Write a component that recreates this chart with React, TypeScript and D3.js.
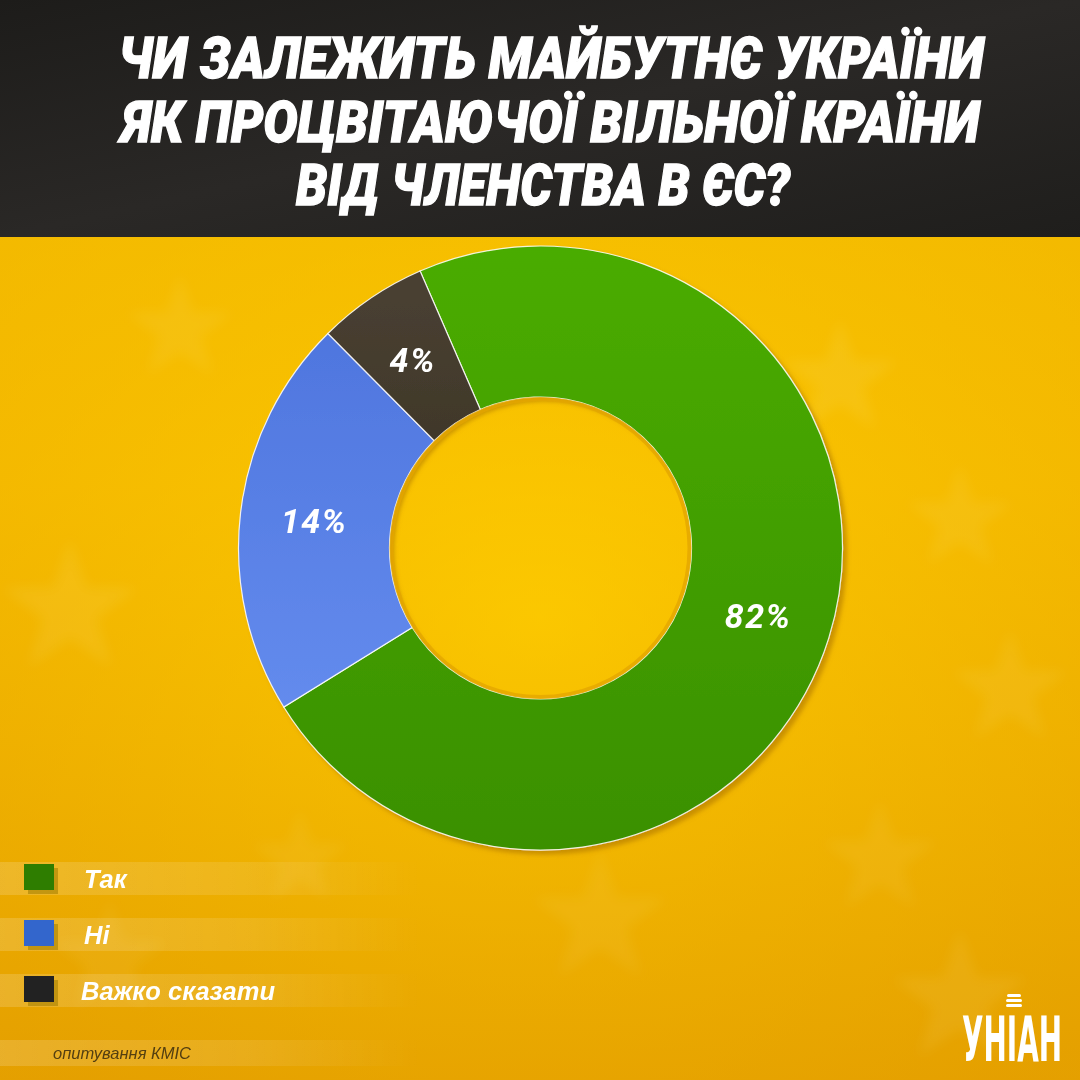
import React from "react";
import * as d3 from "d3";

// ---- data ----
const titleLines = [
  "ЧИ ЗАЛЕЖИТЬ МАЙБУТНЄ УКРАЇНИ",
  "ЯК ПРОЦВІТАЮЧОЇ ВІЛЬНОЇ КРАЇНИ",
  "ВІД ЧЛЕНСТВА В ЄС?",
];
const categories = ["Так", "Ні", "Важко сказати"];
// printed percentages
const labelValues = [82, 14, 4];
// angular shares of the slices as drawn in the picture
const sliceShares = [72.7, 21.4, 5.9];
const sourceText = "опитування КМІС";
const logoText = "УНІАН";

const sliceColors = [
  ["#4aac00", "#3a9000"],
  ["#4a71db", "#6b93f3"],
  ["#4b4234", "#2a2314"],
];
const legendColors = ["#2e7d00", "#3366cc", "#222222"];

const W = 1080;
const H = 1080;
const cx = 540.5;
const cy = 548;
const rOuter = 302;
const rInner = 151;
const startDeg = -23.5;

const stars: [number, number, number, number][] = [
  [70, 610, 70, 0.07],
  [840, 380, 60, 0.07],
  [960, 520, 55, 0.06],
  [1010, 690, 60, 0.06],
  [960, 1000, 70, 0.06],
  [110, 960, 60, 0.05],
  [600, 920, 70, 0.05],
  [180, 330, 55, 0.06],
  [300, 860, 50, 0.05],
  [880, 860, 60, 0.05],
];

function starPath(x: number, y: number, r: number) {
  const pts: string[] = [];
  for (let i = 0; i < 10; i++) {
    const a = (Math.PI / 5) * i - Math.PI / 2;
    const rr = i % 2 === 0 ? r : r * 0.4;
    pts.push(`${x + rr * Math.cos(a)},${y + rr * Math.sin(a)}`);
  }
  return "M" + pts.join("L") + "Z";
}

export default function App() {
  const pie = d3
    .pie<number>()
    .sort(null)
    .value((d) => d)
    .startAngle((startDeg * Math.PI) / 180)
    .endAngle((startDeg * Math.PI) / 180 + 2 * Math.PI);
  const arcs = pie(sliceShares);
  const arc = d3.arc<d3.PieArcDatum<number>>().innerRadius(rInner).outerRadius(rOuter);
  const labelArc = d3
    .arc<d3.PieArcDatum<number>>()
    .innerRadius(rInner + 77)
    .outerRadius(rInner + 77);

  const legendY = d3.scalePoint<string>().domain(categories).range([877, 989]);
  const titleX = [551, 551, 543];
  const titleW = [866, 857, 494];

  return (
    <svg width={W} height={H} style={{ display: "block", position: "absolute", left: 0, top: 0 }}>
      <defs>
        <linearGradient id="bg" x1="0" y1="0" x2="0" y2="1">
          <stop offset="0%" stopColor="#ffd000" />
          <stop offset="45%" stopColor="#fcc400" />
          <stop offset="100%" stopColor="#e7a300" />
        </linearGradient>
        <radialGradient id="bgr" cx="0.5" cy="0.45" r="0.7">
          <stop offset="0%" stopColor="#ffd200" stopOpacity="0.5" />
          <stop offset="100%" stopColor="#e09a00" stopOpacity="0.35" />
        </radialGradient>
        <linearGradient id="top" x1="0" y1="0" x2="1" y2="1">
          <stop offset="0%" stopColor="#1d1c1a" />
          <stop offset="50%" stopColor="#2a2826" />
          <stop offset="100%" stopColor="#1f1e1c" />
        </linearGradient>
        {sliceColors.map((c, i) => (
          <linearGradient
            key={i}
            id={`sl${i}`}
            gradientUnits="userSpaceOnUse"
            x1={0}
            y1={-rOuter}
            x2={0}
            y2={rOuter}
          >
            <stop offset="0%" stopColor={c[0]} />
            <stop offset="100%" stopColor={c[1]} />
          </linearGradient>
        ))}
        <linearGradient id="band" x1="0" y1="0" x2="1" y2="0">
          <stop offset="0%" stopColor="#ffffff" stopOpacity="0.16" />
          <stop offset="60%" stopColor="#ffffff" stopOpacity="0.1" />
          <stop offset="100%" stopColor="#ffffff" stopOpacity="0" />
        </linearGradient>
        <filter id="shadow" x="-10%" y="-10%" width="130%" height="130%">
          <feDropShadow dx="4" dy="4" stdDeviation="2" floodColor="#a87000" floodOpacity="0.55" />
        </filter>
        <filter id="blur" x="-20%" y="-20%" width="140%" height="140%">
          <feGaussianBlur stdDeviation="6" />
        </filter>
      </defs>

      {/* background */}
      <rect x={0} y={0} width={W} height={H} fill="url(#bg)" />
      <rect x={0} y={237} width={W} height={H - 237} fill="url(#bgr)" />
      <g filter="url(#blur)">
        {stars.map(([x, y, r, o], i) => (
          <path key={i} d={starPath(x, y, r)} fill="#fff3b0" opacity={o * 1.3} />
        ))}
      </g>

      {/* title band */}
      <rect x={0} y={0} width={W} height={237} fill="url(#top)" />
      {titleLines.map((t, i) => (
        <text
          key={i}
          x={titleX[i]}
          y={78 + i * 63.5}
          textAnchor="middle"
          fill="#ffffff"
          stroke="#ffffff"
          strokeWidth={1.3}
          fontFamily="Roboto, Inter, sans-serif"
          fontWeight={900}
          fontStyle="italic"
          fontSize={57}
          textLength={titleW[i]}
          lengthAdjust="spacingAndGlyphs"
        >
          {t}
        </text>
      ))}

      {/* donut */}
      <g transform={`translate(${cx},${cy})`}>
        <g filter="url(#shadow)">
          {arcs.map((a, i) => (
            <path
              key={i}
              d={arc(a) || ""}
              fill={`url(#sl${i})`}
              stroke="#ffffff"
              strokeOpacity={0.85}
              strokeWidth={1.2}
            />
          ))}
        </g>
        <circle r={rInner - 2} fill="none" stroke="#e3a600" strokeWidth={4} opacity={0.8} />
        {arcs.map((a, i) => {
          const [lx, ly] = labelArc.centroid(a);
          return (
            <text
              key={`l${i}`}
              x={lx}
              y={ly}
              dy="0.36em"
              textAnchor="middle"
              fill="#ffffff"
              fontFamily="Roboto, 'Liberation Sans', sans-serif"
              fontWeight={700}
              fontStyle="italic"
              fontSize={34}
              letterSpacing={1.5}
            >
              {labelValues[i]}%
            </text>
          );
        })}
      </g>

      {/* legend */}
      {categories.map((c, i) => {
        const y = legendY(c) as number;
        return (
          <g key={c}>
            <rect x={0} y={y - 15} width={420} height={33} fill="url(#band)" />
            <rect x={28} y={y - 9} width={30} height={26} fill="#a07c00" opacity={0.55} />
            <rect x={24} y={y - 13} width={30} height={26} fill={legendColors[i]} />
            <text
              x={i === 2 ? 81 : 84}
              y={y + 11}
              fill="#ffffff"
              fontFamily="'Liberation Sans', Arial, sans-serif"
              fontWeight={700}
              fontStyle="italic"
              fontSize={25.5}
            >
              {c}
            </text>
          </g>
        );
      })}
      <rect x={0} y={1040} width={420} height={26} fill="url(#band)" />
      <text
        x={53}
        y={1059}
        fill="#3a2c0e"
        opacity={0.85}
        fontFamily="'Liberation Sans', Arial, sans-serif"
        fontStyle="italic"
        fontSize={16.5}
      >
        {sourceText}
      </text>

      {/* logo */}
      <g fill="#ffffff">
        <rect x={1007} y={994} width={14} height={3} rx={1.5} />
        <rect x={1006} y={999} width={16} height={3} rx={1.5} />
        <rect x={1006} y={1004} width={16} height={3} rx={1.5} />
        <text
          x={962}
          y={1061}
          fontFamily="'DejaVu Sans Condensed', 'DejaVu Sans', sans-serif"
          fontWeight={700}
          fontSize={62}
          textLength={100}
          lengthAdjust="spacingAndGlyphs"
        >
          {logoText}
        </text>
      </g>
    </svg>
  );
}
